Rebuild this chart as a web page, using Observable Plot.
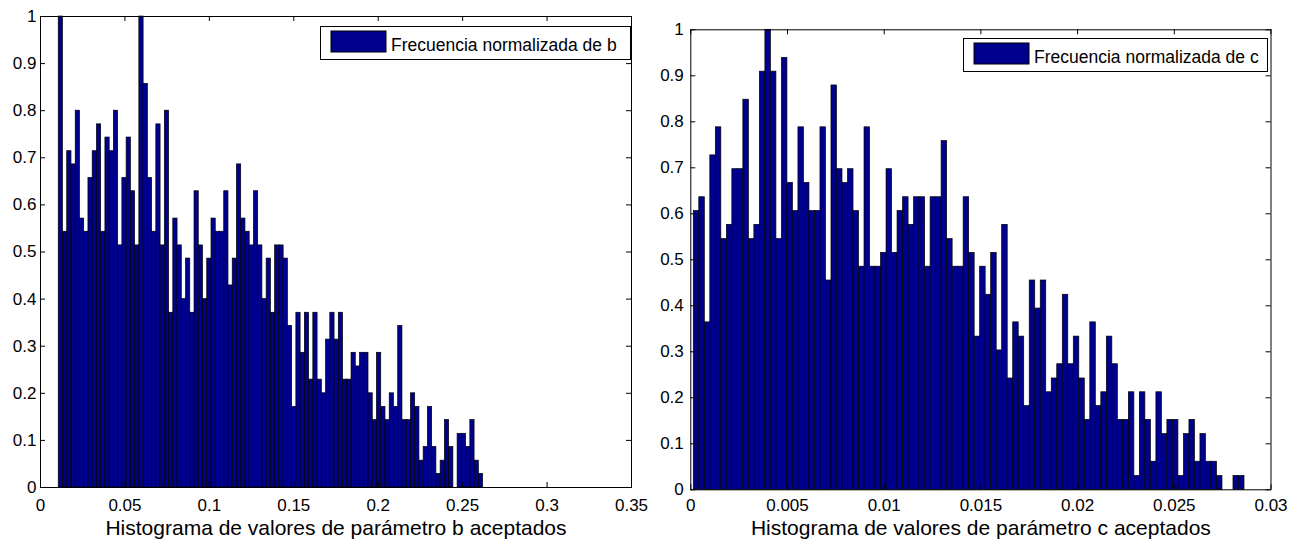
<!DOCTYPE html>
<html>
<head>
<meta charset="utf-8">
<script src="https://cdn.jsdelivr.net/npm/d3@7"></script>
<script src="https://cdn.jsdelivr.net/npm/@observablehq/plot@0.6"></script>
<style>
  body { margin: 0; background: #fff; }
  #wrap { position: relative; width: 1299px; height: 543px; overflow: hidden; background: #fff; }
  .panel { position: absolute; top: 0; }
  .panel svg { overflow: visible; display: block; }
  #legend { position: absolute; left: 0; top: 0; }
</style>
</head>
<body>
<div id="wrap">
  <div class="panel" id="pb" style="left:0px"></div>
  <div class="panel" id="pc" style="left:650px"></div>
</div>
<script>
// ---------- DATA ----------
// normalized frequency of each of the 100 histogram bins, parameter b
const freqB = [
  1, .543, .714, .686, .8, .571, .543, .657, .714, .771,
  .543, .743, .714, .8, .514, .657, .743, .629, .514, 1,
  .857, .657, .543, .771, .514, .8, .371, .571, .514, .4,
  .486, .371, .629, .514, .4, .486, .571, .543, .543, .629,
  .429, .486, .686, .571, .543, .514, .629, .514, .4, .486,
  .371, .514, .514, .486, .343, .171, .371, .286, .371, .229,
  .371, .229, .2, .314, .371, .314, .371, .229, .229, .286,
  .257, .286, .286, .2, .143, .286, .171, .143, .2, .171,
  .343, .143, .143, .2, .171, .057, .086, .171, .086, .029,
  .057, .143, .086, 0, .114, .114, .086, .143, .057, .029
];
// normalized frequency of each of the 100 histogram bins, parameter c
const freqC = [
  .606, .636, .364, .727, .788, .545, .576, .697, .697, .848,
  .545, .576, .909, 1, .909, .545, .939, .667, .606, .788,
  .667, .606, .606, .788, .455, .879, .697, .667, .697, .606,
  .485, .788, .485, .485, .515, .697, .515, .606, .636, .576,
  .636, .636, .485, .636, .636, .758, .545, .485, .485, .636,
  .515, .333, .485, .424, .515, .303, .576, .242, .364, .333,
  .182, .455, .394, .455, .212, .242, .273, .424, .273, .333,
  .242, .152, .364, .182, .212, .333, .273, .152, .152, .212,
  .03, .212, .152, .061, .212, .121, .152, .152, .03, .121,
  .152, .061, .121, .061, .061, .03, 0, 0, .03, .03
];
// histogram range (min, max of accepted values)
const rangeB = [0.0108, 0.2621];
const rangeC = [0.000155, 0.02863];

const xDomainB = [0, 0.35];
const xDomainC = [0, 0.03];
const xTicksB = [0, 0.05, 0.1, 0.15, 0.2, 0.25, 0.3, 0.35];
const xTickLabelsB = ["0", "0.05", "0.1", "0.15", "0.2", "0.25", "0.3", "0.35"];
const xTicksC = [0, 0.005, 0.01, 0.015, 0.02, 0.025, 0.03];
const xTickLabelsC = ["0", "0.005", "0.01", "0.015", "0.02", "0.025", "0.03"];
const yTicks = [0, 0.1, 0.2, 0.3, 0.4, 0.5, 0.6, 0.7, 0.8, 0.9, 1];
const yTickLabels = ["0", "0.1", "0.2", "0.3", "0.4", "0.5", "0.6", "0.7", "0.8", "0.9", "1"];

const titleB = "Histograma de valores de parámetro b aceptados";
const titleC = "Histograma de valores de parámetro c aceptados";
const legendB = "Frecuencia normalizada de b";
const legendC = "Frecuencia normalizada de c";

// ---------- STYLE ----------
const FONT = "'Liberation Sans', Arial, Helvetica, sans-serif";
const BAR = "#00008F";

function binTable(freq, range) {
  const w = (range[1] - range[0]) / freq.length;
  return freq.map((f, i) => ({x1: range[0] + i * w, x2: range[0] + (i + 1) * w, y: f}));
}

function panel(o) {
  const frameW = o.width - o.mL - o.mR;
  const frameH = 543 - o.mT - o.mB;
  const tick = 5;
  const tx = tick * (o.xDomain[1] - o.xDomain[0]) / frameW;
  const ty = tick / frameH;
  return Plot.plot({
    width: o.width, height: 543,
    marginLeft: o.mL, marginRight: o.mR, marginTop: o.mT, marginBottom: o.mB,
    style: {fontFamily: FONT, fontSize: "17px", color: "#000", background: "transparent", overflow: "visible"},
    x: {domain: o.xDomain},
    y: {domain: [0, 1]},
    marks: [
      Plot.rectY(binTable(o.freq, o.range), {x1: "x1", x2: "x2", y1: 0, y2: "y", fill: BAR, stroke: "#000", strokeWidth: 0.7}),
      Plot.frame({stroke: "#000", strokeWidth: 1}),
      Plot.ruleX(o.xTicks, {x: d => d, y1: 0, y2: ty, stroke: "#000"}),
      Plot.ruleX(o.xTicks, {x: d => d, y1: 1, y2: 1 - ty, stroke: "#000"}),
      Plot.ruleY(yTicks, {y: d => d, x1: o.xDomain[0], x2: o.xDomain[0] + tx, stroke: "#000"}),
      Plot.ruleY(yTicks, {y: d => d, x1: o.xDomain[1], x2: o.xDomain[1] - tx, stroke: "#000"}),
      Plot.axisX(o.xTicks, {anchor: "bottom", tickSize: 0, tickPadding: o.xPad, label: null,
        tickFormat: d => o.xLabels[o.xTicks.indexOf(d)], fill: "#000"}),
      Plot.axisY(yTicks, {anchor: "left", tickSize: 0, tickPadding: o.yPad, label: null,
        tickFormat: d => yTickLabels[yTicks.indexOf(d)], fill: "#000"}),
      Plot.text([o.title], {text: d => d, frameAnchor: "bottom", dy: o.titleDy, fontSize: 21, fill: "#000"})
    ]
  });
}

document.getElementById("pb").appendChild(panel({
  freq: freqB, range: rangeB, xDomain: xDomainB, xTicks: xTicksB, xLabels: xTickLabelsB,
  title: titleB, width: 650, mL: 40, mR: 19, mT: 16, mB: 56, xPad: 11, yPad: 4, titleDy: 47
}));
document.getElementById("pc").appendChild(panel({
  freq: freqC, range: rangeC, xDomain: xDomainC, xTicks: xTicksC, xLabels: xTickLabelsC,
  title: titleC, width: 649, mL: 40.3, mR: 28.5, mT: 29.3, mB: 53.7, xPad: 9, yPad: 7, titleDy: 45
}));

// ---------- LEGENDS ----------
const lg = d3.create("svg").attr("id", "legend").attr("width", 1299).attr("height", 543)
  .style("position", "absolute").style("left", "0px").style("top", "0px").style("pointer-events", "none");
function legendBox(x, y, w, h, label) {
  const g = lg.append("g");
  g.append("rect").attr("x", x + 0.5).attr("y", y + 0.5).attr("width", w).attr("height", h)
    .attr("fill", "#fff").attr("stroke", "#000").attr("stroke-width", 1);
  g.append("rect").attr("x", x + 11).attr("y", y + 5).attr("width", 55).attr("height", 21)
    .attr("fill", BAR).attr("stroke", "#000").attr("stroke-width", 1);
  g.append("text").attr("x", x + 71).attr("y", y + 25).attr("font-family", FONT)
    .attr("font-size", 17.5).attr("fill", "#000").text(label);
}
legendBox(320, 26, 310, 33, legendB);
legendBox(963, 38, 304, 33, legendC);
document.getElementById("wrap").appendChild(lg.node());
</script>
</body>
</html>
